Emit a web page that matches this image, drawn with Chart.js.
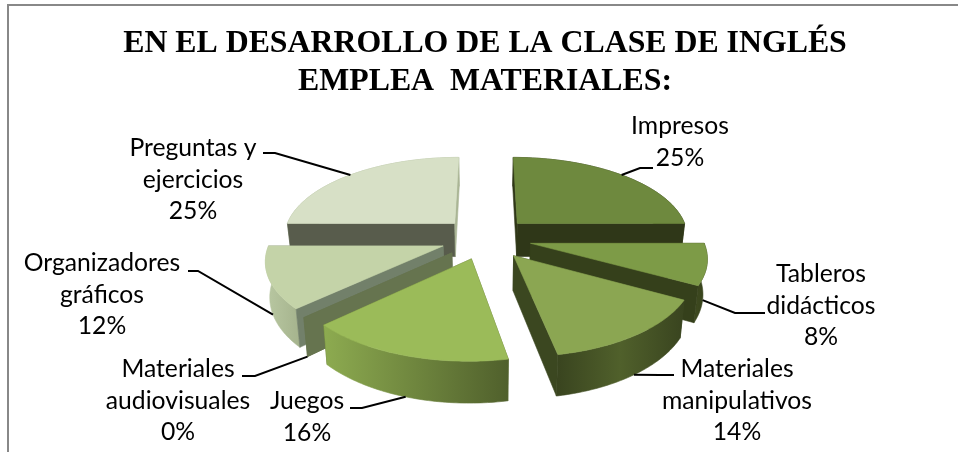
<!DOCTYPE html>
<html><head><meta charset="utf-8">
<script src="https://cdn.jsdelivr.net/npm/chart.js@4"></script>
<style>html,body{margin:0;padding:0;background:#fff}#w{position:absolute;left:0;top:0;width:958px;height:452px}</style>
</head><body><div id="w"><canvas id="c" width="958" height="452"></canvas></div>
<script>
const titleLines = ["EN EL DESARROLLO DE LA CLASE DE INGLÉS", "EMPLEA  MATERIALES:"];
const categories = ["Impresos", "Tableros\ndidácticos", "Materiales\nmanipulativos", "Juegos", "Materiales\naudiovisuales", "Organizadores\ngráficos", "Preguntas y\nejercicios"];
const values = [25, 8, 14, 16, 0, 12, 25];
const topColors = ["#6e893e", "#7d9b47", "#8ba652", "#9bbb59", "#7b8a62", "#c4d3a8", "#d7e0c6"];
const radialStartColors = ["#2f3718", "#35401b", "#3b4720", "#5a6b30", "#66744f", "#72806a", "#585c4c"];
const radialEndColors = ["#2f3718", "#35401b", "#3b4720", "#5a6b30", "#66744f", "#72806a", "#aab595"];
const rimColors = [["#2f3718","#2f3718"], ["#3f4b20","#35401b"], ["#39441f","#50602b","#39441f"], ["#8dab50","#50602c"], ["#66744f","#66744f"], ["#b9c8a2","#a5b38d"], ["#a8b394","#a8b394"]];
// label centre x, first line y; leader elbow x,y; leader end x,y
const labelCentreX = [680, 821, 737, 307, 178, 102, 193];
const labelTopY = [126, 274, 369, 401, 369, 263, 148];
const elbowX = [640, 735, 660, 362, 255, 198, 275];
const elbowY = [168, 313, 375, 408, 376, 271, 153];
const leaderEndX = [653, 765, 674, 350, 242, 188, 263];
const leaderEndY = [168, 313, 375, 408, 376, 271, 153];

const view = {x0: 486, y0: 238, a: 172, b: 80, p: 0.15, depth: 34, shrink: 0.98};
function proj(u, v, low) {
  const s = 1 / (1 - view.p * v);
  return {
    x: view.x0 + view.a * u * s * (low ? view.shrink : 1),
    y: view.y0 + view.b * v * s + (low ? view.depth * s : 0)
  };
}
function poly(ctx, pts, fill) {
  ctx.beginPath();
  pts.forEach((p, i) => i ? ctx.lineTo(p.x, p.y) : ctx.moveTo(p.x, p.y));
  ctx.closePath();
  ctx.fillStyle = fill; ctx.strokeStyle = fill; ctx.lineWidth = 0.6;
  ctx.fill(); ctx.stroke();
}
const pie3d = {
  id: "pie3d",
  beforeDatasetsDraw(chart) {
    const ctx = chart.ctx;
    ctx.save();
    ctx.fillStyle = "#888888";
    ctx.fillRect(7, 4, chart.width - 7, 2);
    ctx.fillRect(7, 4, 2, chart.height - 4);
    const arcs = chart.getDatasetMeta(0).data.map((el, i) => {
      const r = el.outerRadius, e = el.options.offset / r;
      const mid = (el.startAngle + el.endAngle) / 2;
      return {i, el, mid, start: el.startAngle, end: el.endAngle, cu: e * Math.cos(mid), cv: e * Math.sin(mid)};
    });
    [...arcs].sort((a, b) => a.cv - b.cv).forEach(s => {
      const i = s.i, n = 60, topRim = [], lowRim = [];
      for (let k = 0; k <= n; k++) {
        const t = s.start + (s.end - s.start) * k / n;
        const u = s.cu + Math.cos(t), v = s.cv + Math.sin(t);
        topRim.push(proj(u, v, false)); lowRim.push(proj(u, v, true));
      }
      const apex = proj(s.cu, s.cv, false), apexLow = proj(s.cu, s.cv, true);
      const hasArea = s.end - s.start > 0;
      const mid = topRim[30];
      const walls = [[0, radialStartColors[i]], [n, radialEndColors[i]]].map(([k, col]) => {
        const dx = topRim[k].x - apex.x, dy = topRim[k].y - apex.y;
        const sideFace = dx * (mid.y - apex.y) - dy * (mid.x - apex.x);
        const sideDown = dx;
        return {k, col, hidden: hasArea && sideFace * sideDown > 0};
      });
      const drawWall = w => poly(ctx, [apex, topRim[w.k], lowRim[w.k], apexLow], w.col);
      walls.filter(w => w.hidden).forEach(drawWall);
      if (hasArea) {
        const xs = topRim.concat(lowRim).map(p => p.x);
        const g = ctx.createLinearGradient(Math.min(...xs), 0, Math.max(...xs), 0);
        const st = rimColors[i];
        st.forEach((c, k) => g.addColorStop(k / (st.length - 1), c));
        poly(ctx, topRim.concat([...lowRim].reverse()), g);
      }
      walls.filter(w => !w.hidden).forEach(drawWall);
      if (hasArea) poly(ctx, [apex, ...topRim], s.el.options.backgroundColor);
    });
    // leaders and labels
    ctx.strokeStyle = "#000"; ctx.lineWidth = 2;
    arcs.forEach(s => {
      const u = s.cu + Math.cos(s.mid), v = s.cv + Math.sin(s.mid);
      const a = proj(u, v, Math.sin(s.mid) > 0);
      ctx.beginPath(); ctx.moveTo(a.x, a.y);
      ctx.lineTo(elbowX[s.i], elbowY[s.i]); ctx.lineTo(leaderEndX[s.i], leaderEndY[s.i]);
      ctx.stroke();
    });
    const total = values.reduce((a, b) => a + b, 0);
    ctx.fillStyle = "#000"; ctx.textAlign = "center"; ctx.textBaseline = "middle";
    ctx.font = "24.7px Lato";
    categories.forEach((c, i) => {
      const lines = c.split("\n").concat(Math.round(values[i] / total * 100) + "%");
      lines.forEach((l, k) => ctx.fillText(l, labelCentreX[i], labelTopY[i] + k * 31.6));
    });
    ctx.restore();
    return false;
  }
};
new Chart(document.getElementById("c"), {
  type: "pie",
  data: {labels: categories, datasets: [{data: values, backgroundColor: topColors, offset: 41, borderWidth: 0}]},
  options: {
    responsive: false, animation: false,
    layout: {padding: {left: 12}},
    plugins: {
      legend: {display: false}, tooltip: {enabled: false},
      title: {display: true, text: titleLines, color: "#000", padding: {top: 25, bottom: 0},
        font: {family: "'Liberation Serif'", size: 31.8, weight: "bold", lineHeight: 1.19}}
    }
  },
  plugins: [pie3d]
});
</script></body></html>
